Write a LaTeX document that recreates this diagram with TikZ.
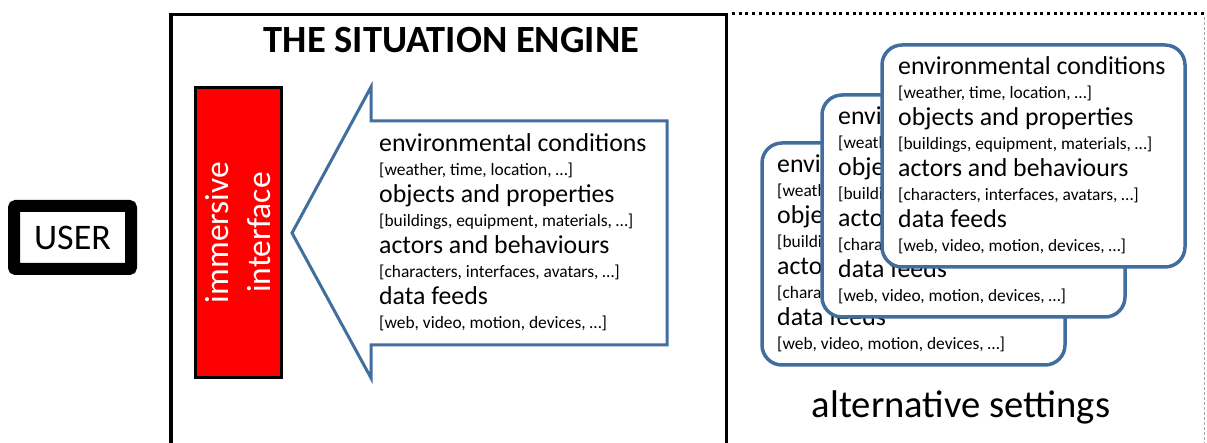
\documentclass[tikz,border=0pt]{standalone}
\usepackage{fontspec}
\setmainfont{Carlito}
\definecolor{shapeblue}{RGB}{65,110,158}
\newcommand{\settinglist}[3]{%
  \node[big]   (#1a) at (#2,#3)     {environmental conditions};
  \node[small] (#1b) at (#2,#3+24)  {[weather, time, location, …]};
  \node[big]   (#1c) at (#2,#3+51)  {objects and properties};
  \node[small] (#1d) at (#2,#3+75)  {[buildings, equipment, materials, …]};
  \node[big]   (#1e) at (#2,#3+102) {actors and behaviours};
  \node[small] (#1f) at (#2,#3+126) {[characters, interfaces, avatars, …]};
  \node[big]   (#1g) at (#2,#3+153) {data feeds};
  \node[small] (#1h) at (#2,#3+177) {[web, video, motion, devices, …]};
}
\begin{document}
\begin{tikzpicture}[x=1pt,y=-1pt,
  big/.style={anchor=base west,inner sep=0pt,font=\fontsize{25.8}{30}\selectfont},
  small/.style={anchor=base west,inner sep=0pt,font=\fontsize{17.4}{20}\selectfont},
  card/.style={draw=shapeblue,line width=3.5pt,fill=white,rounded corners=20pt}]
\useasboundingbox (0,0) rectangle (1207,443);
% USER
\node[draw,line width=12pt,rounded corners=2pt,minimum width=117pt,minimum height=63pt,
      inner sep=0pt,font=\fontsize{36}{40}\selectfont] (user) at (72.5,237.5) {USER};
% situation engine frame
\draw[line width=3.8pt] (171,443) -- (171,14.5) -- (726.5,14.5) -- (726.5,443);
\node[font=\bfseries\fontsize{38.5}{42}\selectfont,inner sep=0pt,anchor=base] (title) at (451.5,53) {THE SITUATION ENGINE};
% immersive interface
\node[draw=black,line width=3pt,fill=red,minimum width=86pt,minimum height=290pt,inner sep=0pt]
  (iface) at (238.5,232.5) {};
\node[rotate=90,text=white,font=\fontsize{33.5}{42}\selectfont,align=center,inner sep=0pt]
  (ifacetext) at (iface.center) {immersive\\interface};
% big arrow
\draw[shapeblue,line width=3pt,line join=miter,fill=white]
  (292,233) -- (371,87) -- (371,121) -- (667,121) -- (667,345) -- (371,345) -- (371,378) -- cycle;
\settinglist{a}{379}{152}
% right frame
\draw[line width=3pt,dash pattern=on 3pt off 3.7pt] (732,14) -- (1207,14);
\draw[gray!70,line width=0.7pt,dash pattern=on 3pt off 2pt] (1204.5,17) -- (1204.5,443);
% cards
\draw[card] (762,143) rectangle ++(303,222);
\settinglist{p}{777}{173}
\draw[card] (822,95) rectangle ++(303,222);
\settinglist{q}{838}{125}
\draw[card] (882,45) rectangle ++(303,222);
\settinglist{r}{898}{75}
\node[anchor=base,inner sep=0pt,font=\fontsize{38.6}{44}\selectfont] (alt) at (961,417) {alternative settings};
\end{tikzpicture}
\end{document}
